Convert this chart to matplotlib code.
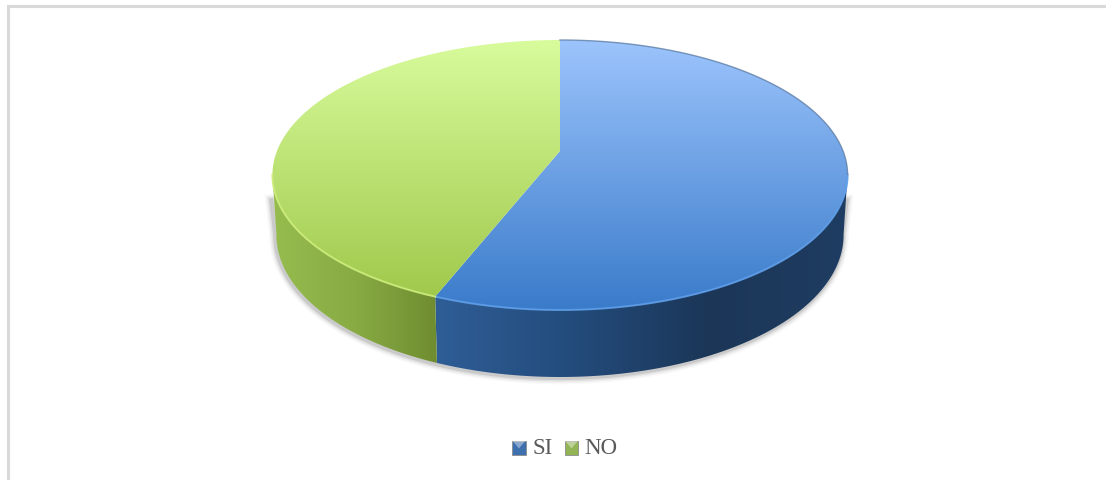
import numpy as np
import matplotlib
matplotlib.use('Agg')
import matplotlib.pyplot as plt
from matplotlib.colors import LinearSegmentedColormap
from matplotlib.legend_handler import HandlerBase
from matplotlib.patches import Patch, Polygon, Rectangle

# datos
labels = ['SI', 'NO']
values = [56, 44]

# colores (arriba, abajo) de la cara y (izq, der) del lateral
top_colors = [['#9CC4FC', '#3A7BCA'], ['#D8FB9C', '#A0C94C']]
side_colors = [['#2F5D96', '#234C7C', '#1B3657', '#1F3D62'], ['#96BC4E', '#88AB44', '#6F8D30']]
rim_colors = ['#5E9DE8', '#CDEC7C']
swatch_colors = ['#3F70AE', '#93B455']

W, H = 1106, 481
CX = 560
# proyeccion de la tapa, el centro del circulo queda en y=152
S, A, B, C = 283, 103.7, 152, -0.1778
# elipse de abajo respecto a la de arriba
TOP_YC, TOP_B, TOP_A = 176, 135, 288
BOT_YC, BOT_B, BOT_A = 236, 142, 284


def top_xy(deg):
    t = np.radians(deg)
    u, v = np.sin(t), -np.cos(t)
    w = 1 + C * v
    return CX + S * u / w, (A * v + B) / w


def bot_xy(deg):
    x, y = top_xy(deg)
    return CX + (x - CX) * BOT_A / TOP_A, BOT_YC + (y - TOP_YC) * BOT_B / TOP_B


def grad(ax, colors, poly, vertical):
    cmap = LinearSegmentedColormap.from_list('g', colors)
    g = np.linspace(0, 1, 256)
    g = g[:, None] if vertical else g[None, :]
    xs, ys = poly[:, 0], poly[:, 1]
    # extent del poligono, la imagen se recorta con el
    ext = (xs.min(), xs.max(), ys.max(), ys.min())
    im = ax.imshow(g, cmap=cmap, extent=ext, aspect='auto', origin='upper',
                   interpolation='bilinear', zorder=3)
    p = Polygon(poly, closed=True, transform=ax.transData, fc='none', ec='none')
    ax.add_patch(p)
    im.set_clip_path(p)


class SwatchHandler(HandlerBase):
    def create_artists(self, legend, orig, x0, y0, w, h, fs, trans):
        c = orig.get_facecolor()
        r = Rectangle((x0, y0), w, h, fc=c, ec='#8C8C8C', lw=0.6, transform=trans)
        t = Polygon([(x0, y0 + h), (x0 + w, y0 + h), (x0 + w / 2, y0 + h * 0.45)],
                    fc='white', alpha=0.4, ec='none', transform=trans)
        return [r, t]


fig = plt.figure(figsize=(W / 100, H / 100), dpi=100)
ax = fig.add_axes([0, 0, 1, 1])
ax.axis('off')

# marco gris, solo arriba e izquierda
ax.plot([8, 8, W], [H, 7, 7], color='#D9D9D9', lw=2.2, solid_joinstyle='miter', zorder=1)

# sombra, sube un poco por los lados
th = np.linspace(100, 260, 200)
sx, sy = bot_xy(th)
tx0, ty0 = top_xy(100)
tx1, ty1 = top_xy(260)
sx = np.r_[tx0, sx, tx1]
sy = np.r_[ty0 + 25, sy, ty1 + 25]
for lw, al in [(9, 0.03), (7, 0.05), (5, 0.08), (3, 0.14)]:
    ax.plot(sx - 1, sy + 1, color='#404040', lw=lw, alpha=al, zorder=2)

fr = np.array(values, dtype=float) / sum(values) * 360
edges = np.concatenate([[0], np.cumsum(fr)])

for i, lab in enumerate(labels):
    a0, a1 = edges[i], edges[i + 1]
    th = np.linspace(a0, a1, 200)
    x, y = top_xy(th)
    # lateral visible
    s0, s1 = max(a0, 100), min(a1, 260)
    ts = np.linspace(s0, s1, 200)
    x1, y1 = top_xy(ts)
    x2, y2 = bot_xy(ts[::-1])
    side = np.column_stack([np.r_[x1, x2], np.r_[y1, y2]])
    grad(ax, side_colors[i], side, False)
    # cara de arriba
    face = np.column_stack([np.r_[x, CX], np.r_[y, B]])
    grad(ax, top_colors[i], face, True)
    # borde claro
    ax.plot(x1, y1, color=rim_colors[i], lw=1.4, alpha=0.9, zorder=4)

# borde de atras de la parte azul
tb = np.linspace(0, 100, 80)
bx, by = top_xy(tb)
ax.plot(bx, by, color='#5F7FA8', lw=1.0, alpha=0.8, zorder=4)

handles = [Patch(facecolor=swatch_colors[i], label=labels[i]) for i in range(len(labels))]
leg = ax.legend(handles=handles, loc='center', bbox_to_anchor=(565, 449),
                bbox_transform=ax.transData, ncol=2, frameon=False,
                handler_map={Patch: SwatchHandler()},
                prop={'family': 'Liberation Serif', 'size': 16.5},
                labelcolor='#595959', handlelength=0.58, handleheight=0.56,
                handletextpad=0.28, columnspacing=0.55, borderpad=0, borderaxespad=0)

ax.set_xlim(0, W)
ax.set_ylim(H, 0)
fig.savefig('out.png', dpi=100, facecolor='white')
